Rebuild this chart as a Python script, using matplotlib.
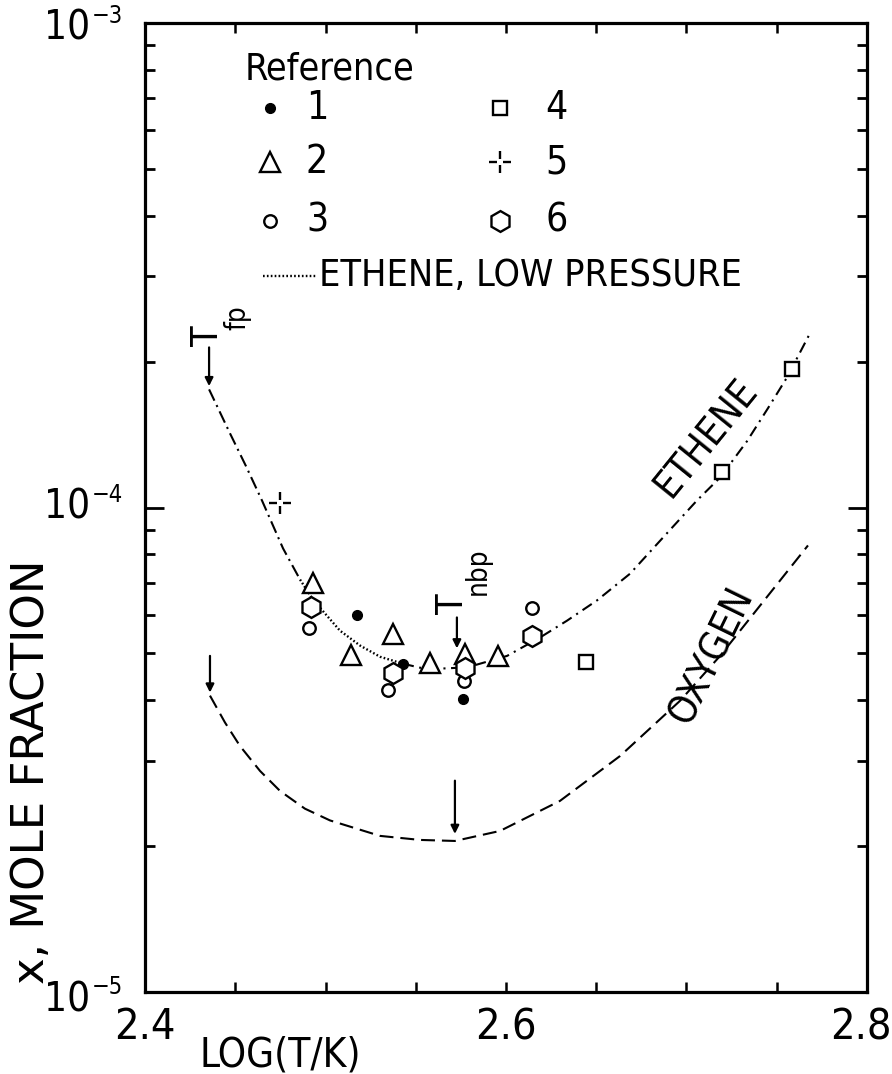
import os
import numpy as np
import matplotlib
matplotlib.use("Agg")
import matplotlib.pyplot as plt
from matplotlib.path import Path
from matplotlib import font_manager as fm
from matplotlib import transforms as mtrans
from matplotlib.font_manager import FontProperties

# ---------------- data ----------------
ethene_x = [2.4355, 2.4471, 2.4560, 2.4648, 2.4765, 2.4859, 2.4931, 2.5080, 2.5191,
            2.5302, 2.5429, 2.5524, 2.5634, 2.5745, 2.5839, 2.6006, 2.6188, 2.6338,
            2.6504, 2.6687, 2.6870, 2.7058, 2.7186, 2.7335, 2.7450, 2.7557, 2.7684]
ethene_y = [1.753e-4, 1.422e-4, 1.216e-4, 1.034e-4, 8.23e-5, 7.10e-5, 6.45e-5, 5.57e-5, 5.19e-5,
            4.92e-5, 4.76e-5, 4.67e-5, 4.65e-5, 4.67e-5, 4.74e-5, 4.94e-5, 5.39e-5, 5.84e-5,
            6.43e-5, 7.30e-5, 8.67e-5, 1.034e-4, 1.153e-4, 1.370e-4, 1.600e-4, 1.856e-4, 2.288e-4]
lowp_range = (2.4859, 2.5429)   # stretch of the ethene curve drawn dotted (low pressure)

oxygen_x = [2.4360, 2.4443, 2.4526, 2.4637, 2.4748, 2.4886, 2.5025, 2.5302, 2.5524,
            2.5717, 2.5967, 2.6299, 2.6632, 2.6964, 2.7186, 2.7407, 2.7673]
oxygen_y = [4.09e-5, 3.60e-5, 3.22e-5, 2.86e-5, 2.60e-5, 2.39e-5, 2.26e-5, 2.10e-5, 2.06e-5,
            2.05e-5, 2.15e-5, 2.48e-5, 3.07e-5, 3.99e-5, 4.94e-5, 6.27e-5, 8.35e-5]

ref1_x = [2.5175, 2.5429, 2.5762]
ref1_y = [6.01e-5, 4.76e-5, 4.03e-5]
ref2_x = [2.4931, 2.5141, 2.5374, 2.5579, 2.5773, 2.5956]
ref2_y = [6.97e-5, 4.97e-5, 5.49e-5, 4.78e-5, 4.99e-5, 4.94e-5]
ref3_x = [2.4909, 2.5346, 2.5767, 2.6144]
ref3_y = [5.65e-5, 4.21e-5, 4.39e-5, 6.21e-5]
ref4_x = [2.6443, 2.7197, 2.7584]
ref4_y = [4.81e-5, 1.181e-4, 1.928e-4]
ref5_x = [2.4748]
ref5_y = [1.024e-4]
ref6_x = [2.4920, 2.5374, 2.5773, 2.6144]
ref6_y = [6.24e-5, 4.56e-5, 4.67e-5, 5.44e-5]

x_ticks = [2.4, 2.6, 2.8]
x_ticklabels = ["2.4", "2.6", "2.8"]
y_ticks = [1e-3, 1e-4, 1e-5]
y_tick_base = ["10", "10", "10"]
y_tick_exp = ["\u22123", "\u22124", "\u22125"]

# ---------------- font selection (narrow face if available) ----------------
def pick_narrow():
    paths = set(f.fname for f in fm.fontManager.ttflist)
    try:
        paths |= set(fm.findSystemFonts())
    except Exception:
        pass
    names = {os.path.basename(p).lower(): p for p in paths}
    prefs = ["liberationsansnarrow-regular", "dejavusanscondensed.",
             "robotocondensed-regular", "opensans_condensed-regular",
             "opensans-condensedregular", "notosans-condensed.",
             "notosanscondensed-regular"]
    for pref in prefs:
        for n, p in sorted(names.items()):
            if n.startswith(pref):
                return p
    bad = ["bold", "italic", "oblique", "light", "thin", "medium", "black",
           "semi", "extra", "mono", "serif", "cjk"]
    for n, p in sorted(names.items()):
        if ("condensed" in n or "narrow" in n) and not any(b in n for b in bad):
            return p
    return None

NARROW = pick_narrow()

def F(size):
    if NARROW:
        return FontProperties(fname=NARROW, size=size)
    return FontProperties(family="DejaVu Sans", size=size * 0.9)

def W(size):
    return FontProperties(family="DejaVu Sans", size=size)

plt.rcParams["lines.scale_dashes"] = False

fig = plt.figure(figsize=(8.92, 10.74), dpi=100)
ax = fig.add_axes([145 / 892, 1 - 992 / 1074, 722 / 892, 969 / 1074])
ax.set_yscale("log")
ax.set_xlim(2.4, 2.8)
ax.set_ylim(1e-5, 1e-3)
for s in ax.spines.values():
    s.set_linewidth(2.3)

# ---------------- curves ----------------
ex = np.array(ethene_x)
ey = np.array(ethene_y)
m1 = ex <= lowp_range[0]
m2 = (ex >= lowp_range[0]) & (ex <= lowp_range[1])
m3 = ex >= lowp_range[1]
ax.plot(ex[m1], ey[m1], color="black", lw=1.5, linestyle=(0, (9, 3.5, 1.5, 3.5)))
ax.plot(ex[m2], ey[m2], color="black", lw=1.7, linestyle=(0, (1.2, 1.6)))
ax.plot(ex[m3], ey[m3], color="black", lw=1.5, linestyle=(0, (8, 4, 1.5, 4)))
ax.plot(oxygen_x, oxygen_y, color="black", lw=1.5, linestyle=(0, (10, 5)))

# ---------------- markers ----------------
plus_path = Path([(-1, 0), (-0.25, 0), (0.25, 0), (1, 0), (0, -1), (0, -0.25), (0, 0.25), (0, 1)],
                 [Path.MOVETO, Path.LINETO, Path.MOVETO, Path.LINETO,
                  Path.MOVETO, Path.LINETO, Path.MOVETO, Path.LINETO])
mk = dict(linestyle="none", markerfacecolor="white", markeredgecolor="black",
          markeredgewidth=1.7)
styles = {
    1: dict(marker="o", markersize=7, color="black", linestyle="none"),
    2: dict(marker="^", markersize=14.5, **mk),
    3: dict(marker="o", markersize=9, **mk),
    4: dict(marker="s", markersize=10, **mk),
    5: dict(marker=plus_path, markersize=16, color="black", linestyle="none",
            markeredgewidth=1.7),
    6: dict(marker="h", markersize=15, **mk),
}
for k, (xs, ys) in {1: (ref1_x, ref1_y), 2: (ref2_x, ref2_y), 3: (ref3_x, ref3_y),
                    4: (ref4_x, ref4_y), 5: (ref5_x, ref5_y), 6: (ref6_x, ref6_y)}.items():
    ax.plot(xs, ys, **styles[k])

# ---------------- ticks ----------------
ax.set_xticks(x_ticks)
ax.set_xticklabels([])
ax.set_xticks(np.arange(2.45, 2.8, 0.05), minor=True)
ax.set_yticks(y_ticks)
ax.set_yticklabels([])
ax.yaxis.set_minor_formatter(matplotlib.ticker.NullFormatter())
ax.tick_params(axis="both", which="both", direction="in", top=True, right=True)
ax.tick_params(axis="x", which="both", length=7, width=1.8)
ax.tick_params(axis="y", which="major", length=14, width=2)
ax.tick_params(axis="y", which="minor", length=7, width=2)

xt = mtrans.blended_transform_factory(ax.transData, ax.transAxes)
for v, lab, dx in zip(x_ticks, x_ticklabels, [0, 0, -6]):
    ax.text(v, (992 - 1027) / 969, lab, fontproperties=F(31), ha="center", va="center",
            transform=mtrans.offset_copy(xt, fig=fig, x=dx, units="dots"), clip_on=False)

yt = mtrans.blended_transform_factory(ax.transAxes, ax.transData)
for v, b, e, dy in zip(y_ticks, y_tick_base, y_tick_exp, [-6, 0, -8]):
    ax.text((90 - 145) / 722, v, b, fontproperties=F(29), ha="right", va="center",
            transform=mtrans.offset_copy(yt, fig=fig, y=dy, units="dots"), clip_on=False)
    ax.text((92 - 145) / 722, v, e, fontproperties=F(17), ha="left", va="center",
            transform=mtrans.offset_copy(yt, fig=fig, y=dy + 13, units="dots"), clip_on=False)

fig.text(280 / 892, 1 - 1056 / 1074, "LOG(T/K)", fontproperties=F(29), ha="center", va="center")
fig.text(32 / 892, 1 - 772 / 1074, "x, MOLE FRACTION", fontproperties=W(32.5),
         rotation=90, ha="center", va="center")

# ---------------- legend (manual, axes fraction) ----------------
def fx(px):
    return (px - 145) / 722

def fy(py):
    return (992 - py) / 969

T = ax.transAxes
ax.text(fx(245), fy(79), "Reference", transform=T, fontproperties=F(27),
        va="baseline", ha="left")
rows = [fy(108), fy(162), fy(221)]
for i, r in enumerate(rows):
    ax.plot([fx(270)], [r], transform=T, **styles[i + 1])
    ax.plot([fx(500)], [r], transform=T, **styles[i + 4])
    ax.text(fx(306), r, str(i + 1), transform=T, fontproperties=F(28), va="center", ha="left")
    ax.text(fx(545), r, str(i + 4), transform=T, fontproperties=F(28), va="center", ha="left")
ax.plot([fx(263), fx(316)], [fy(276), fy(276)], transform=T, color="black",
        lw=1.7, linestyle=(0, (1.2, 1.6)))
ax.text(fx(319), fy(276), "ETHENE, LOW PRESSURE", transform=T, fontproperties=F(27),
        va="center", ha="left")

# ---------------- curve labels & transition points ----------------
ax.text(2.7108, 1.395e-4, "ETHENE", fontproperties=F(28), rotation=51, ha="center", va="center")
ax.text(2.7139, 4.94e-5, "OXYGEN", fontproperties=F(28), rotation=64, ha="center", va="center")

arrow = dict(arrowstyle="-|>", color="black", lw=1.6, mutation_scale=12, shrinkA=0, shrinkB=0)
ax.annotate("", xy=(2.4355, 1.78e-4), xytext=(2.4355, 2.14e-4), arrowprops=arrow)
ax.annotate("", xy=(2.4360, 4.15e-5), xytext=(2.4360, 4.94e-5), arrowprops=arrow)
ax.annotate("", xy=(2.5728, 5.12e-5), xytext=(2.5728, 5.93e-5), arrowprops=arrow)
ax.annotate("", xy=(2.5717, 2.12e-5), xytext=(2.5717, 2.73e-5), arrowprops=arrow)

ax.text(2.4349, 2.266e-4, "T", fontproperties=F(27), rotation=90, ha="center", va="center")
ax.text(2.4510, 2.47e-4, "fp", fontproperties=F(20), rotation=90, ha="center", va="center")
ax.text(2.5706, 6.33e-5, "T", fontproperties=F(27), rotation=90, ha="center", va="center")
ax.text(2.5845, 7.38e-5, "nbp", fontproperties=F(20), rotation=90, ha="center", va="center")

fig.savefig("out.png", dpi=100)
